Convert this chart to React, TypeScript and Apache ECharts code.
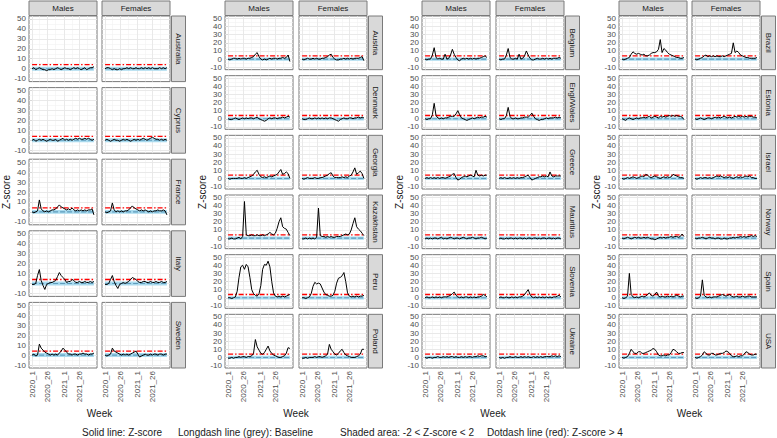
import React, { useEffect, useRef } from "react";
import * as echarts from "echarts";

const FONT = "Liberation Sans, Arial, sans-serif";
const WEEK_STEP = 3;
const xTickValues = [0, 25, 53, 78];
const xTickLabels = ["2020_1", "2020_26", "2021_1", "2021_26"];
const xMinorGrid = [12.5, 39, 65.5, 91];
const yTickValues = [-10, 0, 10, 20, 30, 40, 50];
const yMinorGrid = [-5, 5, 15, 25, 35, 45];
const sexes = ["Males", "Females"];
const legendTexts = [
  "Solid line: Z-score",
  "Longdash line (grey): Baseline",
  "Shaded area: -2 < Z-score < 2",
  "Dotdash line (red): Z-score > 4",
];
const baselineValue = 0;
const thresholdValue = 4;
const bandLow = -2;
const bandHigh = 2;

const group1 = ["Australia", "Cyprus", "France", "Italy", "Sweden"];
const group2 = ["Austria", "Denmark", "Georgia", "Kazakhstan", "Peru", "Poland"];
const group3 = ["Belgium", "Engl/Wales", "Greece", "Mauritius", "Slovenia", "Ukraine"];
const group4 = ["Brazil", "Estonia", "Israel", "Norway", "Spain", "USA"];

const australiaMales = [0,1,-1,0,1, 0,-1,-1,-2,-1, -1,0,-1,0,1, 0,-1,0,1,0, 0,-1,0,1,0, 1,0,-1,0,1, -1,0,1,1,2];
const australiaFemales = [0,1,1,0,-1, 0,-1,-1,0,-1, 0,0,1,0,1, 0,0,1,0,0, 1,0,1,0,1, 0,1,0,0,0, 1,0,1,0,1];
const cyprusMales = [0,1,-1,0,1, 0,1,0,-1,0, 1,0,0,1,-1, 0,1,2,0,1, 0,1,0,1,2, 1,2,1,1,2, 1,2,1,0,1];
const cyprusFemales = [0,1,0,-1,0, 1,0,0,-1,0, 1,0,1,0,-1, 0,1,0,1,0, 1,2,1,0,1, 2,3,2,1,1, 0,1,0,1,0];
const franceMales = [0,-1,0,1,12, 3,1,0,1,0, 1,2,2,3,5, 7,5,4,3,2, 3,2,4,2,1, 2,1,2,1,2, 1,2,2,3,-3];
const franceFemales = [0,-1,0,1,9, 2,0,1,0,1, 0,1,1,2,4, 6,4,3,2,1, 2,1,2,1,0, 1,0,1,1,2, 1,1,2,1,-3];
const italyMales = [-1,-1,0,8,14, 3,-2,-6,-1,0, 1,1,2,3,7, 11,8,6,4,1, 2,2,4,3,1, 1,2,1,1,2, 1,1,2,1,2];
const italyFemales = [-1,-1,0,4,8, 2,-2,-5,-1,0, 1,0,1,2,4, 6,5,4,2,1, 1,2,2,1,1, 2,1,1,2,1, 1,2,1,1,2];
const swedenMales = [0,1,-1,0,11, 7,5,3,2,1, 0,1,0,1,0, 2,4,7,5,3, 1,1,0,1,1, 0,1,1,2,1, 1,0,1,1,2];
const swedenFemales = [0,-1,0,1,7, 4,3,2,1,0, 1,0,1,0,1, 2,3,4,1,-2, -1,0,1,0,0, 1,0,1,1,0, 1,1,0,1,1];

const austriaMales = [0,-1,0,1,1, 0,1,0,1,1, 0,1,1,2,3, 6,8,3,0,-1, 0,-1,0,1,0, 1,1,0,1,1, 2,1,2,5,-3];
const austriaFemales = [0,-1,0,1,0, 0,1,0,1,0, 0,1,1,2,3, 5,6,2,0,-1, -1,0,0,1,0, 1,0,1,0,1, 1,1,2,3,-2];
const denmarkMales = [0,-1,-1,0,1, 0,-1,0,1,0, 1,0,1,1,0, 1,2,0,-1,-2, -3,-2,0,1,0, 1,1,0,1,1, 2,1,2,3,2];
const denmarkFemales = [0,-1,-1,0,1, 0,0,1,0,1, 0,1,0,1,0, 1,1,0,-1,-2, -3,-1,0,1,0, 0,1,1,0,1, 1,2,1,2,1];
const georgiaMales = [0,-1,0,0,0, 0,1,0,0,1, 0,1,2,3,5, 8,10,5,2,1, 2,1,2,3,2, 3,4,5,8,11, 5,6,8,6,0];
const georgiaFemales = [0,-1,0,1,0, 0,0,1,0,0, 1,1,2,3,4, 6,7,3,1,1, 1,1,2,1,2, 1,3,4,8,13, 5,7,9,6,0];
const kazakhstanMales = [-1,-1,0,-1,-1, 0,1,-1,2,45, 4,3,3,4,3, 3,4,3,3,4, 3,4,5,7,5, 4,6,12,20,25, 14,12,11,7,3];
const kazakhstanFemales = [-1,-1,0,-1,0, -1,0,-1,1,37, 3,2,2,1,2, 1,2,1,1,2, 2,2,3,4,5, 4,5,10,18,25, 14,11,9,6,3];
const peruMales = [0,0,-1,0,1, 8,25,38,40,35, 41,38,25,10,5, 3,2,5,15,35, 41,40,45,38,20, 6,2,1,2,1, 2,1,2,3,4];
const peruFemales = [0,0,-1,0,1, 5,14,19,17,18, 17,12,7,4,3, 2,2,3,8,18, 24,25,27,31,20, 6,2,1,2,1, 2,1,2,2,3];
const polandMales = [-1,-1,0,-1,0, 0,1,0,1,1, 0,1,1,2,5, 22,13,9,5,4, 6,10,14,8,5, 3,2,1,0,0, 1,2,5,12,11];
const polandFemales = [-1,-1,0,-1,0, 0,0,1,0,1, 1,0,1,2,4, 16,10,7,4,3, 5,8,10,6,3, 2,1,0,0,0, 1,2,4,10,10];

const belgiumMales = [0,-1,0,0,5, 14,2,0,1,0, 0,6,0,1,5, 12,6,2,-1,-2, 0,1,0,1,0, 1,0,1,0,1, 1,2,3,4,2];
const belgiumFemales = [0,-1,0,0,5, 13,2,0,0,1, 0,6,0,1,4, 10,5,1,-1,-1, 0,1,0,0,1, 0,1,0,1,0, 1,1,1,2,1];
const englWalesMales = [0,-1,0,0,5, 19,4,1,0,1, 0,1,1,2,3, 3,3,6,10,5, 1,0,-1,-2,-1, 0,1,0,1,2, 1,2,2,3,2];
const englWalesFemales = [0,-1,0,0,4, 14,3,0,0,1, 0,0,1,1,2, 2,2,4,7,3, 0,-1,-2,-1,-1, 0,1,0,1,1, 1,2,1,2,1];
const greeceMales = [0,1,0,1,0, 1,0,1,0,1, 1,0,1,2,3, 5,6,1,-2,-1, 1,2,3,2,3, 4,3,2,10,4, 3,4,3,4,4];
const greeceFemales = [0,1,0,1,0, 0,1,0,1,0, 1,0,1,1,2, 3,4,1,-2,-1, 0,1,2,2,3, 2,3,2,8,3, 2,3,3,3,3];
const mauritiusMales = [-1,0,-1,0,-1, 0,0,-1,0,1, -1,0,-1,0,1, 0,-1,0,0,-1, 0,1,0,-1,0, 0,1,0,-1,0, 0,1,0,-1,0];
const mauritiusFemales = [-1,0,-1,-1,0, -1,0,0,-1,0, -1,0,0,-1,0, -1,0,0,-1,0, 0,-1,0,-1,0, 0,-1,0,0,-1, 0,-1,0,0,-1];
const sloveniaMales = [0,1,0,0,1, 0,1,0,1,0, 1,1,1,2,3, 5,7,3,1,0, 1,0,1,1,0, 1,0,1,0,1, 1,2,4,3,1];
const sloveniaFemales = [0,1,0,0,1, 0,0,1,0,1, 0,1,1,2,4, 7,10,4,1,0, 1,0,1,0,1, 0,1,0,1,0, 1,1,2,3,1];
const ukraineMales = [0,-1,0,0,-1, 0,0,1,0,0, 1,0,1,0,1, 1,0,1,0,0, 1,0,1,0,1, 1,0,1,1,2, 1,2,2,1,1];
const ukraineFemales = [0,-1,0,-1,0, 0,1,0,0,1, 0,0,1,0,1, 0,1,0,0,1, 0,1,0,1,0, 1,1,1,1,2, 1,2,1,2,1];

const brazilMales = [0,-1,0,1,2, 6,9,7,6,7, 6,5,6,4,4, 5,7,8,8,9, 12,24,8,13,11, 8,6,5,4,3, 2,2,1,1,2];
const brazilFemales = [0,-1,0,1,2, 4,5,3,4,3, 4,3,4,3,3, 4,3,4,5,6, 7,20,8,10,8, 5,4,3,2,2, 1,1,1,1,2];
const estoniaMales = [0,-1,-2,0,1, 0,-1,0,1,0, 1,1,2,1,2, 3,1,2,3,2, 1,3,2,3,2, 3,4,3,4,3, 4,3,3,2,-1];
const estoniaFemales = [0,-1,0,1,0, -1,0,1,1,0, 1,2,1,2,1, 2,3,2,1,2, 1,2,3,2,3, 2,3,2,3,2, 3,3,2,2,1];
const israelMales = [0,-1,0,1,0, 1,2,1,0,1, 2,3,2,5,4, 2,1,2,3,2, 1,0,1,2,1, 2,1,2,5,4, 3,2,1,1,0];
const israelFemales = [0,-1,0,1,0, 1,1,0,1,0, 1,2,3,2,3, 2,1,2,1,2, 1,0,1,2,1, 2,1,2,3,2, 3,1,1,0,0];
const norwayMales = [0,-1,0,1,0, -1,0,1,0,1, 0,0,1,0,1, 0,-1,-1,-2,-1, 0,1,0,1,0, 1,1,2,1,2, 2,1,2,5,2];
const norwayFemales = [0,-1,0,0,1, 0,-1,0,1,0, 0,-1,0,0,-1, -1,0,-1,-1,0, 0,1,0,1,1, 2,1,2,1,2, 2,3,2,3,2];
const spainMales = [0,-1,0,2,30, 4,1,0,1,0, 1,2,1,2,4, 6,3,2,4,7, 2,1,2,1,1, 2,1,2,1,2, 3,2,1,2,2];
const spainFemales = [0,-1,0,2,22, 3,1,0,1,0, 1,1,1,2,3, 4,3,2,3,4, 2,1,1,2,1, 1,2,1,1,2, 2,1,1,1,1];
const usaMales = [0,-1,0,1,5, 10,7,5,5,7, 7,5,5,6,7, 8,9,11,10,7, 3,2,2,3,2, 3,3,6,10,9, 7,5,5,6,6];
const usaFemales = [0,-1,0,1,3, 7,5,3,3,5, 5,3,3,4,5, 5,6,8,7,5, 2,1,1,2,1, 2,2,4,7,6, 4,3,3,4,4];

const zscoreTable: Record<string, number[][]> = {
  Australia: [australiaMales, australiaFemales],
  Cyprus: [cyprusMales, cyprusFemales],
  France: [franceMales, franceFemales],
  Italy: [italyMales, italyFemales],
  Sweden: [swedenMales, swedenFemales],
  Austria: [austriaMales, austriaFemales],
  Denmark: [denmarkMales, denmarkFemales],
  Georgia: [georgiaMales, georgiaFemales],
  Kazakhstan: [kazakhstanMales, kazakhstanFemales],
  Peru: [peruMales, peruFemales],
  Poland: [polandMales, polandFemales],
  Belgium: [belgiumMales, belgiumFemales],
  "Engl/Wales": [englWalesMales, englWalesFemales],
  Greece: [greeceMales, greeceFemales],
  Mauritius: [mauritiusMales, mauritiusFemales],
  Slovenia: [sloveniaMales, sloveniaFemales],
  Ukraine: [ukraineMales, ukraineFemales],
  Brazil: [brazilMales, brazilFemales],
  Estonia: [estoniaMales, estoniaFemales],
  Israel: [israelMales, israelFemales],
  Norway: [norwayMales, norwayFemales],
  Spain: [spainMales, spainFemales],
  USA: [usaMales, usaFemales],
};

// layout (pixels)
const PANEL_TOP = 16;
const PANEL_BOTTOM = 368;
const PANEL_W = 68;
const ROW_GAP = 6;
const maleLeft = [29, 225, 422, 619];
const femaleLeft = [102, 299, 496, 692];
const legendX = [82, 178, 340, 487];

function buildOption() {
  const groups = [group1, group2, group3, group4];
  const grid: any[] = [];
  const xAxis: any[] = [];
  const yAxis: any[] = [];
  const series: any[] = [];
  const graphic: any[] = [];
  let idx = 0;

  const gridLines = [
    ...yMinorGrid.map((v) => ({ yAxis: v, lineStyle: { color: "#f1f1f1", width: 0.6 } })),
    ...xMinorGrid.map((v) => ({ xAxis: v, lineStyle: { color: "#f1f1f1", width: 0.6 } })),
    ...yTickValues.map((v) => ({ yAxis: v, lineStyle: { color: "#e6e6e6", width: 0.9 } })),
    ...xTickValues.map((v) => ({ xAxis: v, lineStyle: { color: "#e6e6e6", width: 0.9 } })),
  ];

  groups.forEach((countries, g) => {
    const n = countries.length;
    const h = (PANEL_BOTTOM - PANEL_TOP - ROW_GAP * (n - 1)) / n;
    sexes.forEach((sex, s) => {
      const left = s === 0 ? maleLeft[g] : femaleLeft[g];
      graphic.push({
        type: "rect", silent: true, z: 10,
        shape: { x: left, y: 1, width: PANEL_W, height: 14.5 },
        style: { fill: "#d9d9d9", stroke: "#7a7a7a", lineWidth: 1 },
      });
      graphic.push({
        type: "text", silent: true, z: 11, x: left + PANEL_W / 2, y: 8.5,
        style: { text: sex, fontSize: 8, fontFamily: FONT, fill: "#1a1a1a", align: "center", verticalAlign: "middle" },
      });
    });
    graphic.push({
      type: "text", silent: true, z: 11, x: maleLeft[g] - 23, y: 192, rotation: Math.PI / 2,
      style: { text: "Z-score", fontSize: 10, fontFamily: FONT, fill: "#1a1a1a", align: "center", verticalAlign: "middle" },
    });
    graphic.push({
      type: "text", silent: true, z: 11, x: (maleLeft[g] + femaleLeft[g] + PANEL_W) / 2, y: 413,
      style: { text: "Week", fontSize: 10, fontFamily: FONT, fill: "#1a1a1a", align: "center", verticalAlign: "middle" },
    });

    countries.forEach((country, r) => {
      const top = PANEL_TOP + r * (h + ROW_GAP);
      const sx = femaleLeft[g] + PANEL_W + 1.5;
      graphic.push({
        type: "rect", silent: true, z: 10,
        shape: { x: sx, y: top, width: 14, height: h },
        style: { fill: "#d9d9d9", stroke: "#7a7a7a", lineWidth: 1 },
      });
      graphic.push({
        type: "text", silent: true, z: 11, x: sx + 7, y: top + h / 2, rotation: -Math.PI / 2,
        style: { text: country, fontSize: 8, fontFamily: FONT, fill: "#1a1a1a", align: "center", verticalAlign: "middle" },
      });
      const bottom = r === n - 1;
      sexes.forEach((sex, s) => {
        const values = zscoreTable[country][s];
        const lastWeek = (values.length - 1) * WEEK_STEP;
        const left = s === 0 ? maleLeft[g] : femaleLeft[g];
        grid.push({
          left, top, width: PANEL_W, height: h,
          show: true, backgroundColor: "#ffffff", borderColor: "#7a7a7a", borderWidth: 1,
          containLabel: false, outerBoundsMode: "none",
        });
        xAxis.push({
          gridIndex: idx, type: "value", min: -5.1, max: lastWeek + 5.1,
          axisLine: { show: false }, splitLine: { show: false },
          axisTick: { show: bottom, customValues: xTickValues, length: 2.5, lineStyle: { color: "#333", width: 0.8 } },
          axisLabel: {
            show: bottom, customValues: xTickValues, rotate: 90, margin: 3,
            fontSize: 8, fontFamily: FONT, color: "#4d4d4d",
            formatter: (v: number) => {
              const i = xTickValues.indexOf(Number(v));
              return i >= 0 ? xTickLabels[i] : "";
            },
          },
        });
        yAxis.push({
          gridIndex: idx, type: "value", min: -13, max: 53,
          axisLine: { show: false }, splitLine: { show: false },
          axisTick: { show: s === 0, customValues: yTickValues, length: 2.5, lineStyle: { color: "#333", width: 0.8 } },
          axisLabel: { show: s === 0, customValues: yTickValues, margin: 3, fontSize: 8, fontFamily: FONT, color: "#4d4d4d" },
        });
        // background: grid lines + shaded band
        series.push({
          type: "line", xAxisIndex: idx, yAxisIndex: idx, silent: true, z: 1,
          data: [[0, baselineValue]], showSymbol: false, symbol: "none",
          lineStyle: { opacity: 0, width: 0 },
          markLine: {
            silent: true, symbol: "none", z: 1, animation: false,
            label: { show: false }, lineStyle: { type: "solid" },
            emphasis: { disabled: true },
            data: gridLines,
          },
          markArea: {
            silent: true, z: 2, animation: false,
            itemStyle: { color: "#a9daee" },
            label: { show: false },
            data: [[{ coord: [0, bandLow] }, { coord: [lastWeek, bandHigh] }]],
          },
        });
        // baseline (long dash)
        series.push({
          type: "line", xAxisIndex: idx, yAxisIndex: idx, silent: true, z: 3,
          data: [[0, baselineValue], [lastWeek, baselineValue]],
          showSymbol: false, symbol: "none",
          lineStyle: { color: "#5f9dbd", width: 1.1, type: [5, 2] },
        });
        // threshold (dot-dash red)
        series.push({
          type: "line", xAxisIndex: idx, yAxisIndex: idx, silent: true, z: 3,
          data: [[0, thresholdValue], [lastWeek, thresholdValue]],
          showSymbol: false, symbol: "none",
          lineStyle: { color: "#ff0000", width: 1.3, type: [5, 2, 1.5, 2] },
        });
        // z-score
        series.push({
          type: "line", xAxisIndex: idx, yAxisIndex: idx, silent: true, z: 4,
          data: values.map((v, k) => [k * WEEK_STEP, v]),
          showSymbol: false, symbol: "none",
          lineStyle: { color: "#000000", width: 1 },
        });
        idx++;
      });
    });
  });

  legendTexts.forEach((t, i) => {
    graphic.push({
      type: "text", silent: true, z: 11, x: legendX[i], y: 432,
      style: { text: t, fontSize: 10, fontFamily: FONT, fill: "#1a1a1a", align: "left", verticalAlign: "middle" },
    });
  });

  return {
    animation: false,
    backgroundColor: "#ffffff",
    grid, xAxis, yAxis, series, graphic,
  };
}

export default function App() {
  const ref = useRef<HTMLDivElement>(null);
  useEffect(() => {
    if (!ref.current) return;
    const chart = echarts.init(ref.current, null, { renderer: "svg" });
    chart.setOption(buildOption() as any);
    return () => chart.dispose();
  }, []);
  return (
    <div
      ref={ref}
      style={{ position: "fixed", left: 0, top: 0, width: 777, height: 438, background: "#fff" }}
    />
  );
}
